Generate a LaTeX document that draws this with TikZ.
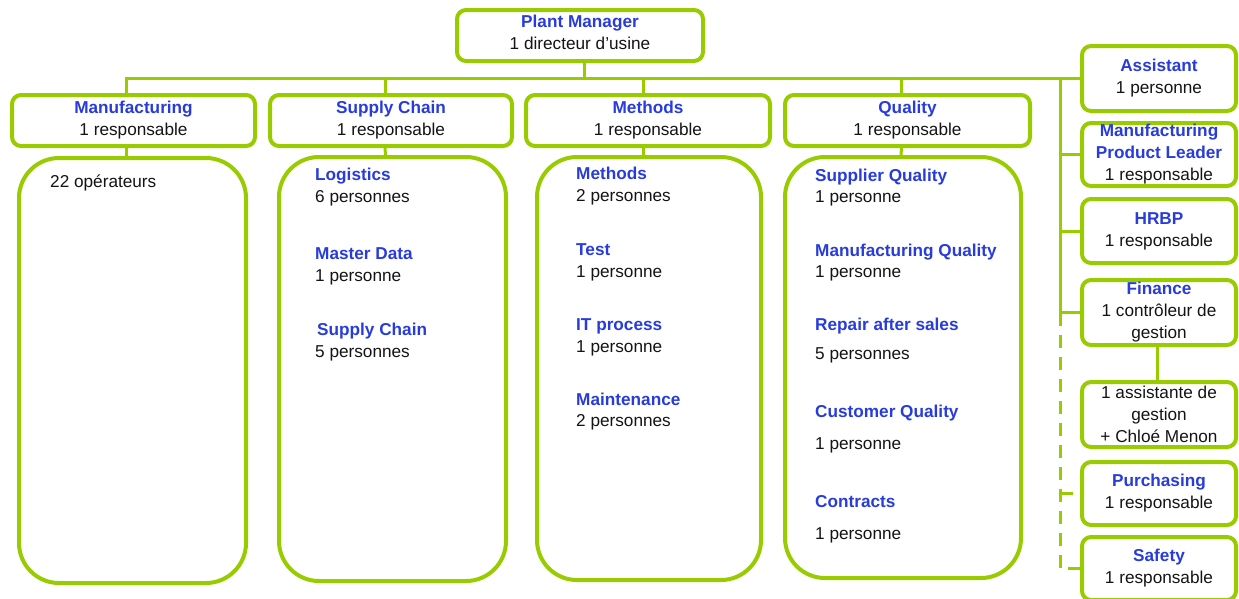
\documentclass[tikz,border=0pt]{standalone}
\usepackage{fontspec}
\setmainfont{Liberation Sans}
\definecolor{lgreen}{RGB}{153,204,0}
\definecolor{tblue}{RGB}{40,60,220}
\definecolor{tdark}{RGB}{20,20,20}
\newcommand\fsz{\fontsize{17.2}{22}\selectfont}
\newcommand\hd[2]{\textcolor{tblue}{\bfseries #1}\\#2}
\tikzset{
  box/.style={draw=lgreen, line width=4pt, rounded corners=9pt, fill=white, align=center, inner sep=0pt, font=\fsz, text=tdark},
  bigbox/.style={draw=lgreen, line width=4pt, rounded corners=40pt, fill=white, inner sep=0pt},
  conn/.style={draw=lgreen, line width=3pt},
  dconn/.style={conn, dash pattern=on 13pt off 9pt},
  ttl/.style={anchor=base west, inner sep=0pt, text=tblue, font=\fsz\bfseries},
  cnt/.style={anchor=base west, inner sep=0pt, font=\fsz, text=tdark},
}
\begin{document}
\begin{tikzpicture}[x=1pt,y=-1pt]
\useasboundingbox (0,0) rectangle (1239,598);
% top
\node[box, minimum width=246pt, minimum height=51pt] (pm) at (580,35.5) {\hd{Plant Manager}{1 directeur d'usine}\\[-16pt]\mbox{}};
% headers
\node[box, minimum width=243pt, minimum height=51pt] (mfg) at (133.5,120.5) {\hd{Manufacturing}{1 responsable}};
\node[box, minimum width=242pt, minimum height=51pt] (sc) at (391,120.5) {\hd{Supply Chain}{1 responsable}};
\node[box, minimum width=244pt, minimum height=51pt] (meth) at (648,120.5) {\hd{Methods}{1 responsable}};
\node[box, minimum width=245pt, minimum height=51pt] (qual) at (907.5,120.5) {\hd{Quality}{1 responsable}};
% big boxes
\node[bigbox, minimum width=227pt, minimum height=425pt] (mfgB) at (132.5,370.5) {};
\node[bigbox, minimum width=227pt, minimum height=424pt] (scB) at (392.5,369) {};
\node[bigbox, minimum width=224pt, minimum height=423pt] (methB) at (649,368.5) {};
\node[bigbox, minimum width=236pt, minimum height=421pt] (qualB) at (903,367.5) {};
% right column
\node[box, minimum width=154pt, minimum height=65pt] (asst) at (1159,78.5) {\hd{Assistant}{1 personne}};
\node[box, minimum width=154pt, minimum height=63pt] (mpl) at (1159,154.5) {\textcolor{tblue}{\bfseries Manufacturing}\\\textcolor{tblue}{\bfseries Product Leader}\\1 responsable};
\node[box, minimum width=154pt, minimum height=64pt] (hrbp) at (1159,231) {\hd{HRBP}{1 responsable}};
\node[box, minimum width=154pt, minimum height=65pt] (fin) at (1159,312.5) {\textcolor{tblue}{\bfseries Finance}\\1 contrôleur de\\gestion};
\node[box, minimum width=154pt, minimum height=65pt] (asg) at (1159,414.5) {1 assistante de\\gestion\\+ Chloé Menon};
\node[box, minimum width=154pt, minimum height=63pt] (pur) at (1159,493.5) {\hd{Purchasing}{1 responsable}};
\node[box, minimum width=154pt, minimum height=63pt] (saf) at (1159,568.5) {\hd{Safety}{1 responsable}};
% connectors
\coordinate (mfgTop) at ([xshift=-7pt]mfg.north);
\coordinate (scTop) at ([xshift=-6pt]sc.north);
\coordinate (methTop) at ([xshift=-5pt]meth.north);
\coordinate (qualTop) at ([xshift=-6pt]qual.north);
\coordinate (rv) at (1060,78.5);
\draw[conn] (mfgTop) |- (asst.west);
\draw[conn] ([xshift=4pt]pm.south) -- ([xshift=4pt]pm.south |- asst.west);
\draw[conn] (scTop) -- (scTop |- asst.west);
\draw[conn] (methTop) -- (methTop |- asst.west);
\draw[conn] (qualTop) -- (qualTop |- asst.west);
\draw[conn] ([xshift=-7pt]mfg.south) -- ([xshift=-6pt]mfgB.north);
\draw[conn] ([xshift=-6pt]sc.south) -- ([xshift=-7pt]scB.north);
\draw[conn] ([xshift=-5pt]meth.south) -- ([xshift=-6pt]methB.north);
\draw[conn] ([xshift=-6pt]qual.south) -- ([xshift=-2pt]qualB.north);
\draw[conn] (rv) |- (fin.west);
\draw[conn] (rv |- mpl.west) -- (mpl.west);
\draw[conn] (rv |- hrbp.west) -- (hrbp.west);
\draw[conn] ([xshift=-2pt]fin.south) -- ([xshift=-2pt]asg.north);
\draw[dconn] (rv |- fin.west) |- (saf.west);
\draw[dconn] (rv |- pur.west) -- (pur.west);
% contents
\node[cnt] (m1) at (50,187) {22 opérateurs};
\node[ttl] (s1) at (315,180) {Logistics};
\node[cnt] (s2) at (315,202) {6 personnes};
\node[ttl] (s3) at (315,259) {Master Data};
\node[cnt] (s4) at (315,281) {1 personne};
\node[ttl] (s5) at (317,335) {Supply Chain};
\node[cnt] (s6) at (315,357) {5 personnes};
\node[ttl] (t1) at (576,179) {Methods};
\node[cnt] (t2) at (576,201) {2 personnes};
\node[ttl] (t3) at (576,255) {Test};
\node[cnt] (t4) at (576,277) {1 personne};
\node[ttl] (t5) at (576,330) {IT process};
\node[cnt] (t6) at (576,352) {1 personne};
\node[ttl] (t7) at (576,405) {Maintenance};
\node[cnt] (t8) at (576,426) {2 personnes};
\node[ttl] (q1) at (815,181) {Supplier Quality};
\node[cnt] (q2) at (815,202) {1 personne};
\node[ttl] (q3) at (815,256) {Manufacturing Quality};
\node[cnt] (q4) at (815,277) {1 personne};
\node[ttl] (q5) at (815,330) {Repair after sales};
\node[cnt] (q6) at (815,359) {5 personnes};
\node[ttl] (q7) at (815,417) {Customer Quality};
\node[cnt] (q8) at (815,449) {1 personne};
\node[ttl] (q9) at (815,507) {Contracts};
\node[cnt] (q10) at (815,539) {1 personne};
\end{tikzpicture}
\end{document}
